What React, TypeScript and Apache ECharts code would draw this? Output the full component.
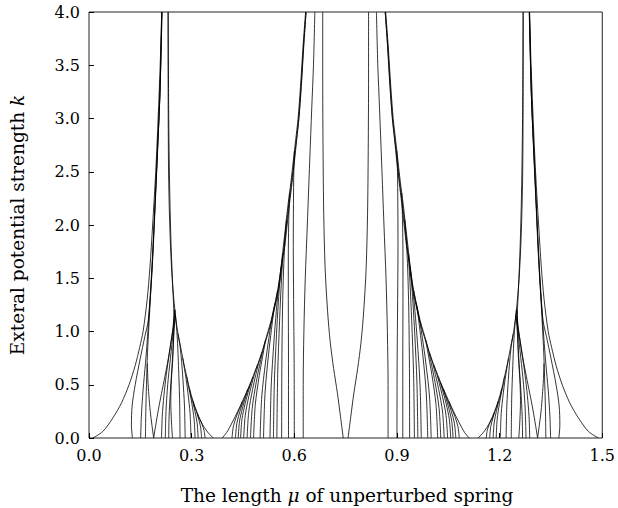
import React, { useEffect, useRef } from "react";
import * as echarts from "echarts";

// Boundary curves, each as [mu, k] points.
// Cluster A: tongue bundle around mu = 0.22
const clusterA: number[][][] = [
  [[0.011,0],[0.04,0.06],[0.07,0.19],[0.095,0.33],[0.117,0.5],[0.135,0.68],[0.148,0.85],[0.158,1.0],[0.17,1.3],[0.178,1.6],[0.186,2.0],[0.195,2.5],[0.202,3.0],[0.208,3.5],[0.2125,4.0]],
  [[0.127,0],[0.124,0.12],[0.126,0.3],[0.135,0.5],[0.15,0.75],[0.163,0.95],[0.173,1.1],[0.181,1.4],[0.188,1.8],[0.195,2.3],[0.202,2.8],[0.208,3.3],[0.2135,4.0]],
  [[0.151,0],[0.153,0.2],[0.158,0.45],[0.165,0.7],[0.171,0.95],[0.176,1.2],[0.182,1.5],[0.1885,1.9],[0.1945,2.3],[0.2015,2.8],[0.208,3.3],[0.213,4.0]],
  [[0.165,0],[0.166,0.25],[0.168,0.5],[0.171,0.8],[0.175,1.05],[0.18,1.35],[0.186,1.7],[0.193,2.2],[0.2,2.7],[0.207,3.2],[0.2125,4.0]],
  [[0.189,0],[0.184,0.12],[0.179,0.25],[0.175,0.4],[0.172,0.55],[0.1705,0.7]],
  [[0.189,0],[0.195,0.12],[0.203,0.27],[0.212,0.42],[0.222,0.58],[0.232,0.75],[0.242,0.95],[0.253,1.15]],
  [[0.212,0],[0.214,0.2],[0.219,0.4],[0.226,0.6],[0.235,0.8],[0.244,1.0],[0.2505,1.2]],
  [[0.223,0],[0.225,0.25],[0.23,0.5],[0.238,0.75],[0.246,1.0],[0.251,1.2]],
  [[0.233,0],[0.234,0.2],[0.238,0.45],[0.243,0.7],[0.247,0.95],[0.248,1.15],[0.245,1.4],[0.24,1.8],[0.236,2.3],[0.233,3.0],[0.2315,4.0]],
  [[0.244,0],[0.241,0.15],[0.239,0.35],[0.241,0.55],[0.245,0.75],[0.2485,1.0],[0.2525,1.15]],
  [[0.266,0],[0.2647,0.37],[0.2615,0.68],[0.2588,0.89],[0.2555,1.05],[0.2505,1.21]],
  [[0.281,0],[0.279,0.3],[0.2745,0.55],[0.2706,0.72],[0.2665,0.85],[0.26,0.98]],
  [[0.298,0],[0.2954,0.23],[0.2893,0.42],[0.284,0.55],[0.279,0.65],[0.274,0.75]],
  [[0.31,0],[0.3072,0.175],[0.3005,0.325],[0.2948,0.425],[0.2895,0.5],[0.2858,0.575]],
  [[0.319,0],[0.316,0.14],[0.309,0.26],[0.303,0.34],[0.2975,0.4],[0.294,0.46]],
  [[0.329,0],[0.326,0.105],[0.319,0.195],[0.313,0.255],[0.3075,0.3],[0.3045,0.345]],
  [[0.339,0],[0.3363,0.07],[0.33,0.13],[0.3246,0.17],[0.3195,0.2],[0.317,0.23]],
  [[0.363,0],[0.348,0.05],[0.337,0.1],[0.328,0.15],[0.321,0.2],[0.309,0.3],[0.299,0.4],[0.291,0.5],[0.284,0.6],[0.277,0.7],[0.271,0.8],[0.265,0.9],[0.259,1.0],[0.251,1.2],[0.243,1.5],[0.237,1.9],[0.233,2.4],[0.2315,3.0],[0.231,4.0]],
];

// Cluster B: tongue bundle around mu = 0.65
const clusterB: number[][][] = [
  [[0.389,0],[0.402,0.05],[0.411,0.1],[0.427,0.2],[0.442,0.3],[0.456,0.4],[0.47,0.5],[0.482,0.6],[0.494,0.7],[0.505,0.8],[0.514,0.9],[0.523,1.0],[0.532,1.1],[0.539,1.2],[0.546,1.3],[0.552,1.4],[0.557,1.5],[0.561,1.6],[0.568,1.8],[0.575,2.0],[0.582,2.2],[0.59,2.4],[0.597,2.6],[0.604,2.8],[0.611,3.0],[0.618,3.3],[0.626,3.7],[0.633,4.0]],
  [[0.418,0],[0.4216,0.105],[0.43,0.195],[0.4372,0.255],[0.4435,0.3],[0.448,0.345]],
  [[0.428,0],[0.4322,0.14],[0.442,0.26],[0.4504,0.34],[0.4575,0.4],[0.464,0.46]],
  [[0.436,0],[0.44,0.158],[0.4495,0.293],[0.4576,0.383],[0.4645,0.45],[0.4722,0.518]],
  [[0.443,0],[0.447,0.175],[0.4565,0.325],[0.4646,0.425],[0.4715,0.5],[0.479,0.575]],
  [[0.452,0],[0.4565,0.21],[0.467,0.39],[0.476,0.51],[0.4835,0.6],[0.4928,0.69]],
  [[0.462,0],[0.4668,0.245],[0.478,0.455],[0.4876,0.595],[0.4955,0.7],[0.5055,0.805]],
  [[0.472,0],[0.477,0.28],[0.4885,0.52],[0.4984,0.68],[0.5065,0.8],[0.516,0.92]],
  [[0.481,0],[0.486,0.315],[0.4975,0.585],[0.5074,0.765],[0.5155,0.9],[0.525,1.0],[0.534,1.1],[0.541,1.2],[0.548,1.3],[0.554,1.4],[0.559,1.5],[0.563,1.6],[0.57,1.8],[0.577,2.0],[0.584,2.2],[0.592,2.4],[0.599,2.6],[0.606,2.8],[0.613,3.0],[0.6198,3.3],[0.6275,3.7],[0.6342,4.0]],
  [[0.5,0],[0.5048,0.385],[0.516,0.715],[0.5256,0.935],[0.5335,1.1],[0.5435,1.265]],
  [[0.51,0],[0.5144,0.42],[0.5245,0.78],[0.5332,1.02],[0.5405,1.2],[0.551,1.38]],
  [[0.529,0],[0.5325,0.49],[0.5405,0.91],[0.5474,1.19],[0.5535,1.4],[0.5614,1.61]],
  [[0.539,0],[0.5417,0.525],[0.548,0.975],[0.5534,1.275],[0.5585,1.5],[0.566,1.725]],
  [[0.549,0],[0.5514,0.595],[0.557,1.105],[0.5618,1.445],[0.5665,1.7],[0.572,1.8],[0.579,2.0],[0.586,2.2],[0.5935,2.4],[0.6005,2.6],[0.607,2.8],[0.6135,3.0],[0.6205,3.3],[0.628,3.7],[0.6345,4.0]],
  [[0.563,0],[0.5635,0.65],[0.5655,1.2],[0.5685,1.57],[0.5725,1.85],[0.577,2.05]],
  [[0.583,0],[0.583,0.7],[0.5825,1.3],[0.5825,1.7],[0.5835,2.0],[0.586,2.3]],
  [[0.6,0],[0.5995,0.7],[0.598,1.3],[0.597,1.8],[0.5975,2.2],[0.5985,2.5],[0.6005,2.7]],
  [[0.626,0],[0.626,0.5],[0.628,1.0],[0.632,1.5],[0.638,2.0],[0.645,2.6],[0.651,3.1],[0.656,3.5],[0.66,4.0]],
  [[0.743,0],[0.735,0.2],[0.726,0.42],[0.715,0.65],[0.705,0.9],[0.697,1.2],[0.69,1.6],[0.686,2.1],[0.684,2.7],[0.683,3.4],[0.683,4.0]],
];

// Cluster C: tongue bundle around mu = 0.85
const clusterC: number[][][] = [
  [[1.111,0],[1.098,0.05],[1.089,0.1],[1.073,0.2],[1.058,0.3],[1.044,0.4],[1.03,0.5],[1.018,0.6],[1.006,0.7],[0.995,0.8],[0.986,0.9],[0.977,1.0],[0.968,1.1],[0.961,1.2],[0.954,1.3],[0.948,1.4],[0.943,1.5],[0.939,1.6],[0.932,1.8],[0.925,2.0],[0.918,2.2],[0.91,2.4],[0.903,2.6],[0.896,2.8],[0.889,3.0],[0.882,3.3],[0.874,3.7],[0.867,4.0]],
  [[1.082,0],[1.0784,0.105],[1.07,0.195],[1.0628,0.255],[1.0565,0.3],[1.052,0.345]],
  [[1.072,0],[1.0678,0.14],[1.058,0.26],[1.0496,0.34],[1.0425,0.4],[1.036,0.46]],
  [[1.064,0],[1.06,0.158],[1.0505,0.293],[1.0424,0.383],[1.0355,0.45],[1.0278,0.518]],
  [[1.057,0],[1.053,0.175],[1.0435,0.325],[1.0354,0.425],[1.0285,0.5],[1.021,0.575]],
  [[1.048,0],[1.0435,0.21],[1.033,0.39],[1.024,0.51],[1.0165,0.6],[1.0072,0.69]],
  [[1.038,0],[1.0332,0.245],[1.022,0.455],[1.0124,0.595],[1.0045,0.7],[0.9945,0.805]],
  [[1.028,0],[1.023,0.28],[1.0115,0.52],[1.0016,0.68],[0.9935,0.8],[0.984,0.92]],
  [[1.019,0],[1.014,0.315],[1.0025,0.585],[0.9926,0.765],[0.9845,0.9],[0.975,1.0],[0.966,1.1],[0.959,1.2],[0.952,1.3],[0.946,1.4],[0.941,1.5],[0.937,1.6],[0.93,1.8],[0.923,2.0],[0.916,2.2],[0.908,2.4],[0.901,2.6],[0.894,2.8],[0.887,3.0],[0.8802,3.3],[0.8725,3.7],[0.8658,4.0]],
  [[1.0,0],[0.9952,0.385],[0.984,0.715],[0.9744,0.935],[0.9665,1.1],[0.9565,1.265]],
  [[0.99,0],[0.9856,0.42],[0.9755,0.78],[0.9668,1.02],[0.9595,1.2],[0.949,1.38]],
  [[0.971,0],[0.9675,0.49],[0.9595,0.91],[0.9526,1.19],[0.9465,1.4],[0.9386,1.61]],
  [[0.961,0],[0.9583,0.525],[0.952,0.975],[0.9466,1.275],[0.9415,1.5],[0.934,1.725]],
  [[0.951,0],[0.9486,0.595],[0.943,1.105],[0.9382,1.445],[0.9335,1.7],[0.928,1.8],[0.921,2.0],[0.914,2.2],[0.9065,2.4],[0.8995,2.6],[0.893,2.8],[0.8865,3.0],[0.8795,3.3],[0.872,3.7],[0.8655,4.0]],
  [[0.937,0],[0.9365,0.65],[0.9345,1.2],[0.9315,1.57],[0.9275,1.85],[0.923,2.05]],
  [[0.917,0],[0.917,0.7],[0.9175,1.3],[0.9175,1.7],[0.9165,2.0],[0.914,2.3]],
  [[0.9,0],[0.9005,0.7],[0.902,1.3],[0.903,1.8],[0.9025,2.2],[0.9015,2.5],[0.8995,2.7]],
  [[0.874,0],[0.874,0.5],[0.872,1.0],[0.868,1.5],[0.862,2.0],[0.855,2.6],[0.849,3.1],[0.844,3.5],[0.84,4.0]],
  [[0.757,0],[0.765,0.2],[0.774,0.42],[0.785,0.65],[0.795,0.9],[0.803,1.2],[0.81,1.6],[0.814,2.1],[0.816,2.7],[0.817,3.4],[0.817,4.0]],
];

// Cluster D: tongue bundle around mu = 1.28
const clusterD: number[][][] = [
  [[1.489,0],[1.46,0.06],[1.43,0.19],[1.405,0.33],[1.383,0.5],[1.365,0.68],[1.352,0.85],[1.342,1.0],[1.33,1.3],[1.322,1.6],[1.314,2.0],[1.305,2.5],[1.298,3.0],[1.292,3.5],[1.2875,4.0]],
  [[1.373,0],[1.376,0.12],[1.374,0.3],[1.365,0.5],[1.35,0.75],[1.337,0.95],[1.327,1.1],[1.319,1.4],[1.312,1.8],[1.305,2.3],[1.298,2.8],[1.292,3.3],[1.2865,4.0]],
  [[1.349,0],[1.347,0.2],[1.342,0.45],[1.335,0.7],[1.329,0.95],[1.324,1.2],[1.318,1.5],[1.3115,1.9],[1.3055,2.3],[1.2985,2.8],[1.292,3.3],[1.287,4.0]],
  [[1.335,0],[1.334,0.25],[1.332,0.5],[1.329,0.8],[1.325,1.05],[1.32,1.35],[1.314,1.7],[1.307,2.2],[1.3,2.7],[1.293,3.2],[1.2875,4.0]],
  [[1.311,0],[1.316,0.12],[1.321,0.25],[1.325,0.4],[1.328,0.55],[1.3295,0.7]],
  [[1.311,0],[1.305,0.12],[1.297,0.27],[1.288,0.42],[1.278,0.58],[1.268,0.75],[1.258,0.95],[1.247,1.15]],
  [[1.288,0],[1.286,0.2],[1.281,0.4],[1.274,0.6],[1.265,0.8],[1.256,1.0],[1.2495,1.2]],
  [[1.277,0],[1.275,0.25],[1.27,0.5],[1.262,0.75],[1.254,1.0],[1.249,1.2]],
  [[1.267,0],[1.266,0.2],[1.262,0.45],[1.257,0.7],[1.253,0.95],[1.252,1.15],[1.255,1.4],[1.26,1.8],[1.264,2.3],[1.267,3.0],[1.2685,4.0]],
  [[1.256,0],[1.259,0.15],[1.261,0.35],[1.259,0.55],[1.255,0.75],[1.2515,1.0],[1.2475,1.15]],
  [[1.234,0],[1.2353,0.37],[1.2385,0.68],[1.2412,0.89],[1.2445,1.05],[1.2495,1.21]],
  [[1.219,0],[1.221,0.3],[1.2255,0.55],[1.2294,0.72],[1.2335,0.85],[1.24,0.98]],
  [[1.202,0],[1.2046,0.23],[1.2107,0.42],[1.216,0.55],[1.221,0.65],[1.226,0.75]],
  [[1.19,0],[1.1928,0.175],[1.1995,0.325],[1.2052,0.425],[1.2105,0.5],[1.2142,0.575]],
  [[1.181,0],[1.184,0.14],[1.191,0.26],[1.197,0.34],[1.2025,0.4],[1.206,0.46]],
  [[1.171,0],[1.174,0.105],[1.181,0.195],[1.187,0.255],[1.1925,0.3],[1.1955,0.345]],
  [[1.161,0],[1.1637,0.07],[1.17,0.13],[1.1754,0.17],[1.1805,0.2],[1.183,0.23]],
  [[1.137,0],[1.152,0.05],[1.163,0.1],[1.172,0.15],[1.179,0.2],[1.191,0.3],[1.201,0.4],[1.209,0.5],[1.216,0.6],[1.223,0.7],[1.229,0.8],[1.235,0.9],[1.241,1.0],[1.249,1.2],[1.257,1.5],[1.263,1.9],[1.267,2.4],[1.2685,3.0],[1.269,4.0]],
];

export default function App() {
  const ref = useRef<HTMLDivElement>(null);
  useEffect(() => {
    if (!ref.current) return;
    const chart = echarts.init(ref.current, null, { renderer: "svg" });
    const curves = [...clusterA, ...clusterB, ...clusterC, ...clusterD];
    const font = "'DejaVu Serif', 'Liberation Serif', serif";
    chart.setOption({
      animation: false,
      backgroundColor: "#fff",
      grid: { left: 89, right: 12, top: 12, bottom: 70, show: true, borderColor: "#222", borderWidth: 1 },
      xAxis: {
        type: "value", min: 0, max: 1.5, interval: 0.3,
        axisLine: { show: false },
        axisTick: { show: true, inside: true, length: 5, lineStyle: { color: "#000" } },
        splitLine: { show: false },
        axisLabel: { color: "#000", fontSize: 16, fontFamily: font, margin: 9, formatter: (v: number) => v.toFixed(1) },
      },
      yAxis: {
        type: "value", min: 0, max: 4, interval: 0.5,
        axisLine: { show: false },
        axisTick: { show: true, inside: true, length: 5, lineStyle: { color: "#000" } },
        splitLine: { show: false },
        axisLabel: { color: "#000", fontSize: 16, fontFamily: font, margin: 9, formatter: (v: number) => v.toFixed(1) },
      },
      graphic: [
        { type: "text", x: 347, y: 495, style: { text: "The length {i|μ} of unperturbed spring", font: `18.5px ${font}`, fill: "#000", align: "center", verticalAlign: "middle", rich: { i: { fontStyle: "italic", fontSize: 18.5, fontFamily: font } } } },
        { type: "text", x: 17, y: 225, rotation: Math.PI / 2, style: { text: "Exteral potential strength {i|k}", font: `18.5px ${font}`, fill: "#000", align: "center", verticalAlign: "middle", rich: { i: { fontStyle: "italic", fontSize: 18.5, fontFamily: font } } } },
      ],
      series: curves.map((c, i) => ({
        name: "c" + i, type: "line", data: c, showSymbol: false, smooth: 0.3, silent: true,
        lineStyle: { color: "#000", width: 0.8 },
      })),
    });
    return () => chart.dispose();
  }, []);
  return <div ref={ref} style={{ width: 618, height: 508, position: "absolute", left: 0, top: 0 }} />;
}
